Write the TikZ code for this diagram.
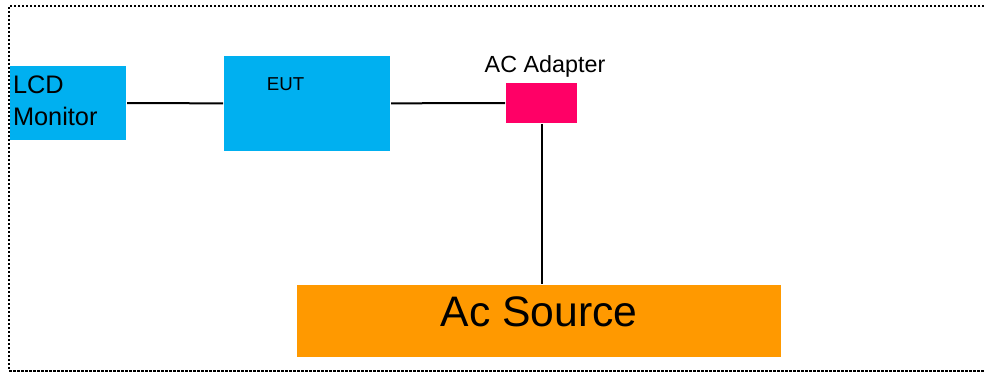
\documentclass[tikz,border=0pt]{standalone}
\usepackage{fontspec}
\setmainfont{Liberation Sans}
\definecolor{unitblue}{HTML}{00B0F0}
\definecolor{adapterpink}{HTML}{FF0066}
\definecolor{sourceorange}{HTML}{FF9900}

\begin{document}
\begin{tikzpicture}[x=0.75pt,y=-0.75pt,line width=1.5pt,
    box/.style={rectangle,draw=none,inner sep=0pt}]
%      \draw[style=help lines] (0,0) grid[step=100] (984,373);
      \useasboundingbox (0,0) rectangle (984,373);
      \draw[line width=1.5pt,dash pattern=on 1.5pt off 1.5pt] (984,6) -- (9,6) -- (9,371);
      \draw[line width=0.8pt,dash pattern=on 2pt off 1pt] (9,371) -- (984,371);
      \node[box,fill=unitblue,minimum width=87pt,minimum height=55.5pt] (lcd) at (68,103) {};
      \node[inner sep=0pt,anchor=north west,align=left,font=\fontsize{19}{23.7}\selectfont] (lcdtext) at (12,75) {LCD\\Monitor};
      \node[box,fill=unitblue,minimum width=124.5pt,minimum height=71.25pt] (eut) at (307,103.5) {};
      \node[font=\fontsize{14}{16}\selectfont,inner sep=0pt] (euttext) at (285.5,84) {EUT};
      \node[box,fill=adapterpink,minimum width=53.25pt,minimum height=30pt] (adapter) at (541.5,103) {};
      \node[font=\fontsize{17.5}{20}\selectfont,inner sep=0pt,anchor=base] (adaptertext) at (545,72.3) {AC Adapter};
      \node[box,fill=sourceorange,minimum width=363pt,minimum height=54pt,text depth=13.5pt,
        font=\fontsize{32}{36}\selectfont] (source) at (539,321) {Ac Source};
      \draw (lcd) -- (eut);
      \draw (eut) -- (adapter);
      \draw (adapter.south) -- (adapter.south |- source.north);
    \end{tikzpicture}
\end{document}
